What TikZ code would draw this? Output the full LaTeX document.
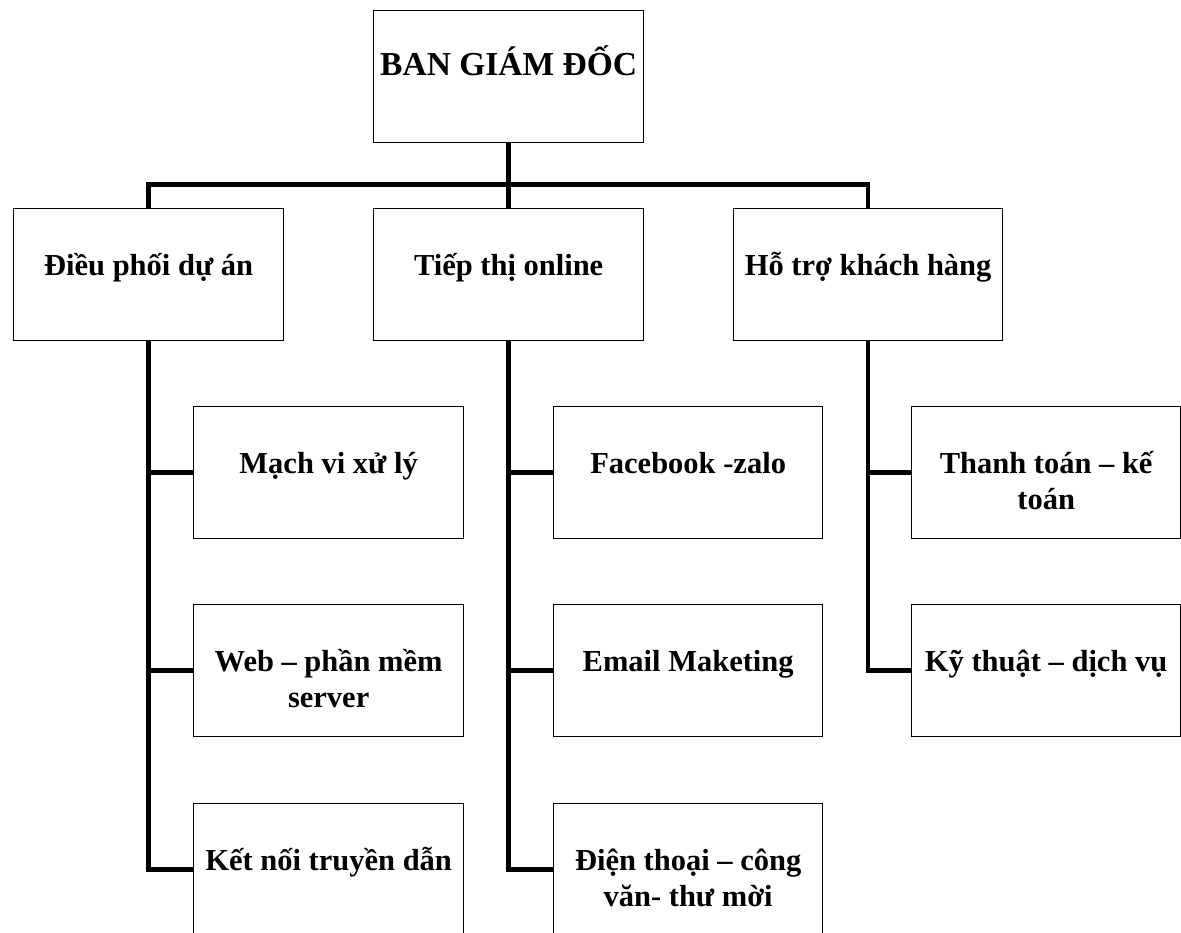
\documentclass[tikz,border=0pt]{standalone}
\usepackage{fontspec}
\setmainfont{Liberation Serif}
\newcommand\twolines[1]{\begin{tabular}[t]{@{}c@{}}#1\end{tabular}}
\begin{document}
\begin{tikzpicture}[x=1pt,y=-1pt,
 box/.style={draw=black, line width=1.3pt, minimum width=270pt, minimum height=132pt, inner sep=0pt, anchor=north west, fill=white},
 boxn/.style={box, minimum width=269pt},
 lbl/.style={font=\bfseries\fontsize{30.5}{36}\selectfont, anchor=base, inner sep=0pt},
 toplbl/.style={lbl, font=\bfseries\fontsize{33.5}{40}\selectfont},
 conn/.style={line width=4.6pt, line join=miter}]
\clip (0,0) rectangle (1181,932);
% boxes
\node[box] (top) at (373,10) {};
\node[box] (l1) at (13,208) {};
\node[box] (l2) at (373,208) {};
\node[boxn] (l3) at (733,208) {};
\node[box] (c11) at (193,406) {};
\node[box] (c12) at (193,604) {};
\node[box] (c13) at (193,803) {};
\node[boxn] (c21) at (553,406) {};
\node[boxn] (c22) at (553,604) {};
\node[boxn] (c23) at (553,803) {};
\node[boxn] (c31) at (911,406) {};
\node[boxn] (c32) at (911,604) {};
% labels
\node[toplbl] (ttop) at ([yshift=-65pt]top.north) {BAN GIÁM ĐỐC};
\node[lbl] (tl1) at ([yshift=-67pt]l1.north) {Điều phối dự án};
\node[lbl] (tl2) at ([yshift=-67pt]l2.north) {Tiếp thị online};
\node[lbl] (tl3) at ([yshift=-67pt]l3.north) {Hỗ trợ khách hàng};
\node[lbl] (tc11) at ([yshift=-67pt]c11.north) {Mạch vi xử lý};
\node[lbl] (tc12) at ([yshift=-67pt]c12.north) {\twolines{Web – phần mềm\\server}};
\node[lbl] (tc13) at ([yshift=-67pt]c13.north) {Kết nối truyền dẫn};
\node[lbl] (tc21) at ([yshift=-67pt]c21.north) {Facebook -zalo};
\node[lbl] (tc22) at ([yshift=-67pt]c22.north) {Email Maketing};
\node[lbl] (tc23) at ([yshift=-67pt]c23.north) {\twolines{Điện thoại – công\\văn- thư mời}};
\node[lbl] (tc31) at ([yshift=-67pt]c31.north) {\twolines{Thanh toán – kế\\toán}};
\node[lbl] (tc32) at ([yshift=-67pt]c32.north) {Kỹ thuật – dịch vụ};
% connectors
\draw[conn] (top.south) -- ++(0,41) coordinate (j);
\draw[conn] (l1.north) |- (j) -| (l3.north);
\draw[conn] (j) -- (l2.north);
\draw[conn] (l1.south) |- (c11.west);
\draw[conn] (l1.south) |- (c12.west);
\draw[conn] (l1.south) |- (c13.west);
\draw[conn] (l2.south) |- (c21.west);
\draw[conn] (l2.south) |- (c22.west);
\draw[conn] (l2.south) |- (c23.west);
\draw[conn] (l3.south) |- (c31.west);
\draw[conn] (l3.south) |- (c32.west);
\end{tikzpicture}
\end{document}
